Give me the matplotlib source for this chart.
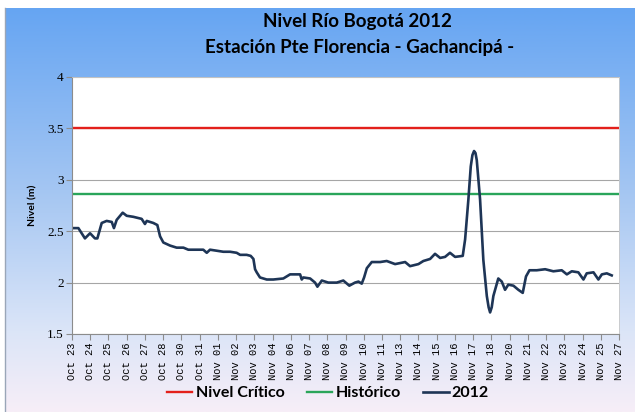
import numpy as np
import matplotlib.pyplot as plt
from matplotlib.colors import LinearSegmentedColormap
from matplotlib.lines import Line2D

# categorias del eje x (tal como salen en la grafica)
fechas = ["Oct 23", "Oct 24", "Oct 25", "Oct 26", "Oct 27", "Oct 28", "Oct 30", "Oct 31",
          "Nov 01", "Nov 02", "Nov 03", "Nov 04", "Nov 06", "Nov 07", "Nov 08", "Nov 09",
          "Nov 10", "Nov 11", "Nov 13", "Nov 14", "Nov 15", "Nov 16", "Nov 17", "Nov 18",
          "Nov 20", "Nov 21", "Nov 22", "Nov 23", "Nov 24", "Nov 25", "Nov 27"]

NIVEL_CRITICO = 3.5
HISTORICO = 2.86

# serie 2012: posicion sobre el eje de categorias y nivel [m]
pos_2012 = [0.00, 0.35, 0.71, 0.99, 1.26, 1.39, 1.63, 1.90, 2.18, 2.30, 2.45, 2.78, 3.00,
            3.36, 3.82, 4.00, 4.10, 4.46, 4.68, 4.83, 5.01, 5.38, 5.74, 6.11, 6.38, 6.84,
            7.20, 7.39, 7.57, 7.94, 8.30, 8.67, 9.03, 9.22, 9.58, 9.80, 9.95, 10.04, 10.13,
            10.31, 10.68, 11.04, 11.59, 11.96, 12.33, 12.51, 12.60, 12.69, 13.06, 13.33,
            13.46, 13.70, 14.06, 14.52, 14.88, 15.21, 15.52, 15.71, 15.89, 16.02, 16.17,
            16.44, 16.90, 17.26, 17.72, 18.27, 18.54, 19.00, 19.27, 19.64, 19.91, 20.19,
            20.46, 20.73, 21.01, 21.43, 21.56, 21.74, 21.87, 21.96, 22.05, 22.13, 22.20,
            22.38, 22.56, 22.75, 22.85, 22.93, 23.02, 23.11, 23.38, 23.57, 23.75, 23.93,
            24.21, 24.48, 24.72, 24.90, 25.09, 25.49, 25.95, 26.40, 26.86, 27.14, 27.41,
            27.77, 28.05, 28.23, 28.60, 28.87, 29.06, 29.33, 29.60]
nivel_2012 = [2.53, 2.53, 2.43, 2.48, 2.43, 2.43, 2.58, 2.60, 2.59, 2.53, 2.61, 2.68, 2.65,
              2.64, 2.62, 2.57, 2.60, 2.58, 2.56, 2.45, 2.39, 2.36, 2.34, 2.34, 2.32, 2.32,
              2.32, 2.29, 2.32, 2.31, 2.30, 2.30, 2.29, 2.27, 2.27, 2.26, 2.23, 2.13, 2.10,
              2.05, 2.03, 2.03, 2.04, 2.08, 2.08, 2.08, 2.03, 2.05, 2.04, 2.00,
              1.96, 2.02, 2.00, 2.00, 2.02, 1.97, 2.00, 2.01, 1.99, 2.05, 2.14,
              2.20, 2.20, 2.21, 2.18, 2.20, 2.16, 2.18, 2.21, 2.23, 2.28, 2.24,
              2.25, 2.29, 2.25, 2.26, 2.42, 2.81, 3.13, 3.24, 3.28, 3.26, 3.19,
              2.81, 2.22, 1.87, 1.76, 1.71, 1.76, 1.87, 2.04, 2.01, 1.93, 1.98,
              1.97, 1.93, 1.90, 2.06, 2.12, 2.12, 2.13, 2.11, 2.12, 2.08, 2.11,
              2.10, 2.03, 2.09, 2.10, 2.03, 2.08, 2.09, 2.07]

W, H = 635, 412
fig = plt.figure(figsize=(W / 100, H / 100), dpi=100)

# fondo degradado azul -> lila
bg = fig.add_axes([5 / W, 0, 1 - 5 / W, 1 - 8 / H])
fondo = LinearSegmentedColormap.from_list(
    "fondo", [(0, "#66a5f2"), (0.45, "#a4c6f2"), (0.8, "#dbe5f8"), (1, "#f7eef7")])
bg.imshow(np.linspace(0, 1, 256).reshape(-1, 1), aspect="auto", cmap=fondo,
          extent=[0, 1, 0, 1])
bg.set_axis_off()
fig.add_artist(Line2D([5 / W, 5 / W], [0, 1 - 8 / H], color="#9aa6b8", lw=1))

ax = fig.add_axes([72 / W, 1 - 334 / H, 547 / W, 257 / H])
ax.set_facecolor("white")
ax.yaxis.grid(True, color="#a6a6a6", lw=0.8)
ax.set_axisbelow(True)

ax.axhline(NIVEL_CRITICO, color="#e3201b", lw=1.7)
ax.axhline(HISTORICO, color="#2aa55a", lw=1.7)
ax.plot(pos_2012, nivel_2012, color="#1e3556", lw=1.9)

ax.set_ylim(1.5, 4)
ax.set_yticks([1.5, 2, 2.5, 3, 3.5, 4])
ax.set_yticklabels(["1.5", "2", "2.5", "3", "3.5", "4"], family="Liberation Serif", fontsize=9.5)
ax.set_xlim(0, len(fechas) - 1)
ax.set_xticks(range(len(fechas)))
ax.set_xticklabels(fechas, rotation=90, family="Liberation Mono", fontsize=7.5)
ax.tick_params(axis="both", color="#8c8c8c", length=4, pad=2)

for s in ["left", "bottom"]:
    ax.spines[s].set_color("#8c8c8c")
for s in ["top", "right"]:
    ax.spines[s].set_color("#c8c8c8")
    ax.spines[s].set_linewidth(0.6)

ax.set_ylabel("Nivel (m)", family="Lato", weight="bold", fontsize=7.5)
ax.yaxis.set_label_coords(-(72 - 37) / 547, 0.5)

fig.text(357 / W, 1 - 22 / H, "Nivel Río Bogotá 2012", ha="center", va="center",
         family="Lato", weight="bold", fontsize=13.5)
fig.text(360 / W, 1 - 47 / H, "Estación Pte Florencia - Gachancipá -", ha="center",
         va="center", family="Lato", weight="bold", fontsize=13.5)

handles = [Line2D([], [], color="#e3201b", lw=1.7),
           Line2D([], [], color="#2aa55a", lw=1.7),
           Line2D([], [], color="#1e3556", lw=1.9)]
fig.legend(handles, ["Nivel Crítico", "Histórico", "2012"], ncol=3, loc="center",
           bbox_to_anchor=(328 / W, 1 - 393 / H), frameon=False, handlelength=1.6,
           handletextpad=0.2, columnspacing=1.4,
           prop={"family": "Lato", "weight": "bold", "size": 11.5})

plt.savefig("out.png", dpi=100)
